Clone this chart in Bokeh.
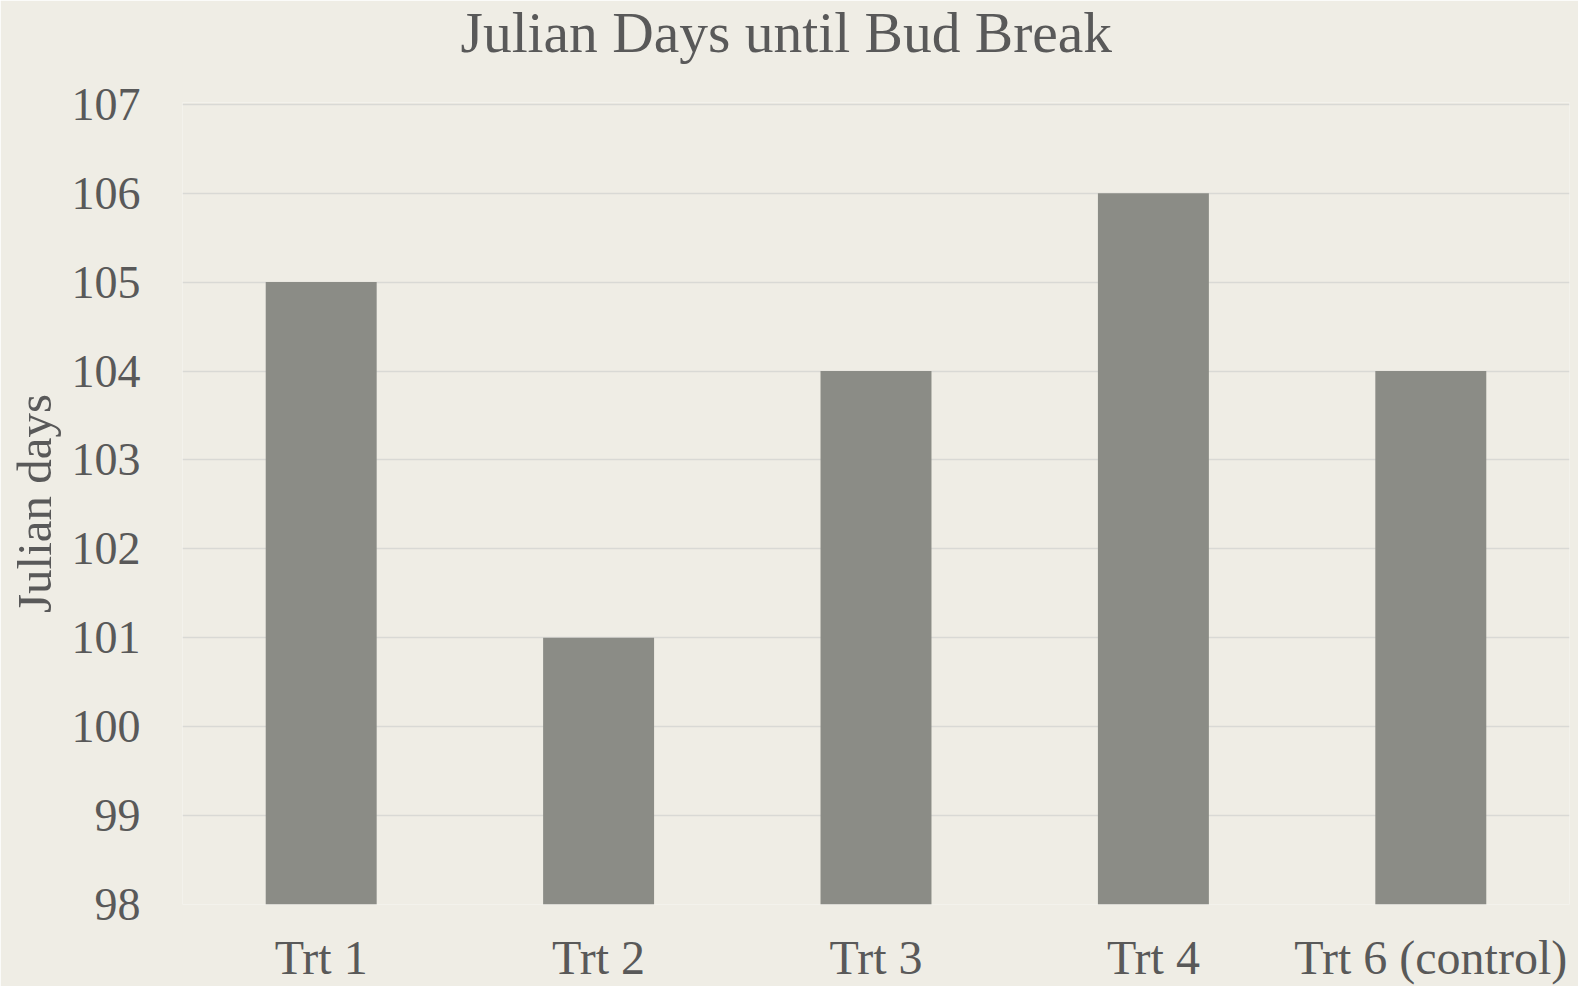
from bokeh.plotting import figure
from bokeh.models import FactorRange, Range1d, SingleIntervalTicker, Title
from bokeh.embed import file_html
from bokeh.resources import INLINE

categories = ["Trt 1", "Trt 2", "Trt 3", "Trt 4", "Trt 6 (control)"]
days = [105, 101, 104, 106, 104]
y_min, y_max = 98, 107
chart_title = "Julian Days until Bud Break"
y_label = "Julian days"

BG = "#EFEDE5"
BAR = "#8B8C86"
TXT = "#595959"
FONT = "Liberation Serif"

p = figure(
    x_range=FactorRange(*categories, range_padding=0),
    y_range=Range1d(y_min, y_max + 0.02),
    width=1578, height=986,
    output_backend="svg", toolbar_location=None,
    title=None,
    background_fill_color=BG, border_fill_color=BG,
    min_border_left=182, min_border_right=9,
    min_border_top=102, min_border_bottom=60,
    outline_line_color=None,
)

p.vbar(x=categories, top=days, bottom=y_min, width=0.4,
       fill_color=BAR, line_color=None)

main_title = Title(text=chart_title, align="left", vertical_align="top",
                   text_font=FONT, text_font_size="57.5px",
                   text_font_style="normal", text_color=TXT,
                   offset=278, standoff=0)

# spacer between plot frame and title, then the title itself (further out)
p.add_layout(Title(text=" ", text_font_size="1px", standoff=34,
                   background_fill_color=None), "above")
p.add_layout(main_title, "above")

p.yaxis.ticker = SingleIntervalTicker(interval=1)
p.yaxis.axis_label = y_label
p.yaxis.axis_label_text_font = FONT
p.yaxis.axis_label_text_font_size = "49px"
p.yaxis.axis_label_text_font_style = "normal"
p.yaxis.axis_label_text_color = TXT
p.yaxis.axis_label_standoff = 7

for ax in (p.xaxis, p.yaxis):
    ax.major_label_text_font = FONT
    ax.major_label_text_color = TXT
    ax.axis_line_color = None
    ax.major_tick_line_color = None
    ax.minor_tick_line_color = None
    ax.major_tick_out = 0
    ax.major_tick_in = 0

p.yaxis.major_label_text_font_size = "46px"
p.xaxis.major_label_text_font_size = "48px"
p.yaxis.major_label_standoff = 38
p.xaxis.major_label_standoff = 26

p.xgrid.grid_line_color = None
p.ygrid.grid_line_color = "#D9D9D5"
p.ygrid.grid_line_width = 1.5

open("out.html", "w").write(file_html(p, INLINE))
